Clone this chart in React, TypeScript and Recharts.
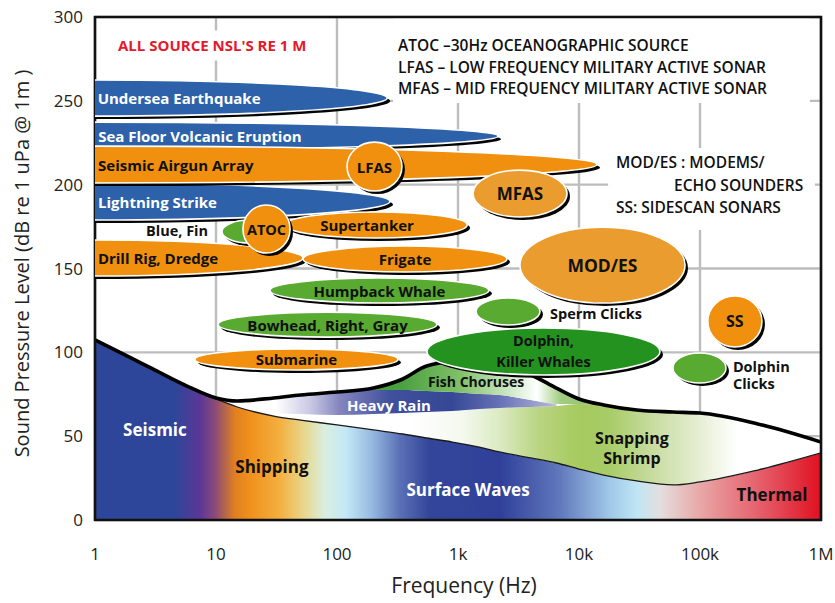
import React from 'react'
import {
  ComposedChart,
  Area,
  Line,
  Scatter,
  XAxis,
  YAxis,
  CartesianGrid,
  ReferenceArea,
} from 'recharts'

const FONT = '"Open Sans", "DejaVu Sans", sans-serif'

const xTicks = [1, 10, 100, 1000, 10000, 100000, 1000000]
const yTicks = [0, 50, 100, 150, 200, 250, 300]

// frequency grid (Hz) for the ambient noise curves
const freqs = [1, 2, 3, 6, 10, 15, 30, 50, 100, 200, 350, 550, 900, 1500, 2200, 4000, 6500, 10000, 16000, 30000, 60000, 100000, 300000, 1000000]

// upper limit of ambient noise (thick black curve), dB
const envelope = [107.4, 96.6, 90.1, 79.3, 72.8, 71.0, 72.8, 74.6, 76.3, 78.7, 84.1, 91.8, 94.2, 93.6, 91.3, 86.5, 78.7, 72.2, 68.6, 65.6, 64.4, 63.8, 57.3, 46.5]

// top of seismic / shipping / surface waves / thermal floor
const floorTop = [107.4, 96.6, 90.1, 79.3, 72.2, 67.4, 62.0, 59.6, 56.7, 53.7, 51.3, 48.9, 46.5, 43.5, 40.6, 37.0, 34.0, 30.4, 26.8, 23.3, 20.9, 22.7, 29.8, 40.0]

const _ = null
const shrimpLow = [_, _, _, _, _, _, 62.0, 59.6, 56.7, 53.7, 51.3, 48.9, 46.5, 43.5, 40.6, 37.0, 34.0, 30.4, 26.8, 23.3, 20.9, 22.7, 29.8, 40.0]
const shrimpHigh = [_, _, _, _, _, _, 63.8, 63.2, 62.6, 63.2, 63.8, 64.4, 65.0, 66.2, 66.8, 67.4, 68.0, 69.2, 68.6, 65.6, 64.4, 63.8, 57.3, 46.5]
const rainLow = [_, _, _, _, _, 67.6, 63.8, 63.2, 62.6, 63.2, 63.8, 64.4, 65.0, 66.2, 66.8, 67.4, 68.0, _, _, _, _, _, _, _]
const rainHigh = [_, _, _, _, _, 69.4, 72.2, 74.0, 76.3, 77.5, 77.5, 76.9, 76.3, 75.1, 74.6, 71.6, 69.2, _, _, _, _, _, _, _]
const fishLow = [_, _, _, _, _, _, _, _, 76.3, 77.5, 77.5, 76.9, 76.3, 75.1, 74.6, 71.6, 69.2, 69.2, 68.6, _, _, _, _, _]
const fishHigh = [_, _, _, _, _, _, _, _, 76.3, 78.7, 84.1, 91.8, 94.2, 93.6, 91.3, 86.5, 78.7, 72.2, 68.6, _, _, _, _, _]

// sound sources: frequency span (Hz) and level span (dB re 1 uPa @ 1m), in drawing order
const sources = [
  { name: 'Sea Floor Volcanic Eruption', f1: 0.00047, f2: 2140, db1: 220.6, db2: 237.3 },
  { name: 'Undersea Earthquake', f1: 0.0038, f2: 260, db1: 240.9, db2: 262.4 },
  { name: 'Lightning Strike', f1: 0.00365, f2: 274, db1: 178.9, db2: 201.0 },
  { name: 'Seismic Airgun Array', f1: 0.000071, f2: 14100, db1: 201.0, db2: 223.0 },
  { name: 'LFAS', f1: 121, f2: 344, db1: 196.2, db2: 225.4 },
  { name: 'MFAS', f1: 1330, f2: 7960, db1: 180.7, db2: 208.7 },
  { name: 'Drill Rig, Dredge', f1: 0.019, f2: 52.4, db1: 145.5, db2: 167.0 },
  { name: 'Frigate', f1: 52.4, f2: 2540, db1: 147.9, db2: 163.4 },
  { name: 'Blue, Fin', f1: 11.2, f2: 32.5, db1: 165.2, db2: 178.9 },
  { name: 'Supertanker', f1: 37.2, f2: 1190, db1: 168.2, db2: 183.7 },
  { name: 'ATOC', f1: 16.7, f2: 40.9, db1: 159.2, db2: 187.9 },
  { name: 'Humpback Whale', f1: 27.9, f2: 1800, db1: 129.4, db2: 144.3 },
  { name: 'Bowhead, Right, Gray', f1: 10.4, f2: 670, db1: 109.1, db2: 124.0 },
  { name: 'Submarine', f1: 6.7, f2: 319, db1: 89.5, db2: 102.0 },
  { name: 'MOD/ES', f1: 3250, f2: 75200, db1: 129.4, db2: 174.7 },
  { name: 'Sperm Clicks', f1: 1410, f2: 4760, db1: 116.3, db2: 132.4 },
  { name: 'SS', f1: 116000, f2: 325000, db1: 103.2, db2: 133.6 },
  { name: 'Dolphin Clicks', f1: 59800, f2: 164000, db1: 81.7, db2: 99.6 },
  { name: 'Dolphin, Killer Whales', f1: 554, f2: 46700, db1: 86.5, db2: 114.5 },
]

// text written inside the source shapes
const innerText: Record<string, string> = {
  'Sea Floor Volcanic Eruption': 'Sea Floor Volcanic Eruption',
  'Undersea Earthquake': 'Undersea Earthquake',
  'Lightning Strike': 'Lightning Strike',
  'Seismic Airgun Array': 'Seismic Airgun Array',
  LFAS: 'LFAS',
  MFAS: 'MFAS',
  'Drill Rig, Dredge': 'Drill Rig, Dredge',
  Frigate: 'Frigate',
  Supertanker: 'Supertanker',
  ATOC: 'ATOC',
  'Humpback Whale': 'Humpback Whale',
  'Bowhead, Right, Gray': 'Bowhead, Right, Gray',
  Submarine: 'Submarine',
  'MOD/ES': 'MOD/ES',
  SS: 'SS',
  'Dolphin, Killer Whales': 'Dolphin,\nKiller Whales',
}

// free-standing annotations
const notes = [
  { id: 'allsrc', text: "ALL SOURCE NSL'S RE 1 M", f: 1.55, db: 283.3 },
  { id: 'atoc', text: 'ATOC \u201330Hz OCEANOGRAPHIC SOURCE', f: 319, db: 283.3 },
  { id: 'lfas', text: 'LFAS \u2013 LOW FREQUENCY MILITARY ACTIVE SONAR', f: 319, db: 270.2 },
  { id: 'mfas', text: 'MFAS \u2013 MID FREQUENCY MILITARY ACTIVE SONAR', f: 319, db: 257.6 },
  { id: 'modes1', text: 'MOD/ES : MODEMS/', f: 20200, db: 213.5 },
  { id: 'modes2', text: 'ECHO SOUNDERS', f: 61000, db: 199.8 },
  { id: 'ss', text: 'SS: SIDESCAN SONARS', f: 20200, db: 186.7 },
  { id: 'bluefin', text: 'Blue, Fin', f: 8.6, db: 172.4 },
  { id: 'sperm', text: 'Sperm Clicks', f: 5760, db: 122.9 },
  { id: 'dclicks', text: 'Dolphin\nClicks', f: 187000, db: 86.5 },
  { id: 'seismic', text: 'Seismic', f: 3.13, db: 53.7 },
  { id: 'shipping', text: 'Shipping', f: 29, db: 32.2 },
  { id: 'waves', text: 'Surface Waves', f: 1210, db: 17.9 },
  { id: 'thermal', text: 'Thermal', f: 394000, db: 15.5 },
  { id: 'shrimp', text: 'Snapping\nShrimp', f: 27400, db: 42.9 },
  { id: 'rain', text: 'Heavy Rain', f: 269, db: 68.6 },
  { id: 'fish', text: 'Fish Choruses', f: 1410, db: 82.9 },
]

// white areas behind the text blocks
const textBoxes = [
  { f1: 1.33, f2: 60, db1: 274, db2: 292 },
  { f1: 290, f2: 810000, db1: 248.7, db2: 300 },
  { f1: 17400, f2: 890000, db1: 173, db2: 221.8 },
]

const BLUE = '#2d62aa'
const ORANGE = '#f0900e'
const LIGHT_ORANGE = '#eb9c2e'
const GREEN = '#58aa30'
const DARK_GREEN = '#23921f'
const INK = '#111'

const look: Record<string, { fill: string; ink: string; size: number; dx?: number; lh?: number }> = {
  'Sea Floor Volcanic Eruption': { fill: BLUE, ink: '#fff', size: 15 },
  'Undersea Earthquake': { fill: BLUE, ink: '#fff', size: 15 },
  'Lightning Strike': { fill: BLUE, ink: '#fff', size: 15 },
  'Seismic Airgun Array': { fill: ORANGE, ink: INK, size: 15 },
  LFAS: { fill: ORANGE, ink: INK, size: 15 },
  MFAS: { fill: LIGHT_ORANGE, ink: INK, size: 17 },
  'Drill Rig, Dredge': { fill: ORANGE, ink: INK, size: 15 },
  Frigate: { fill: ORANGE, ink: INK, size: 15 },
  'Blue, Fin': { fill: GREEN, ink: INK, size: 15 },
  Supertanker: { fill: ORANGE, ink: INK, size: 15, dx: -9 },
  ATOC: { fill: ORANGE, ink: INK, size: 14.5 },
  'Humpback Whale': { fill: GREEN, ink: INK, size: 15 },
  'Bowhead, Right, Gray': { fill: GREEN, ink: INK, size: 15 },
  Submarine: { fill: ORANGE, ink: INK, size: 15 },
  'MOD/ES': { fill: LIGHT_ORANGE, ink: INK, size: 17.5 },
  'Sperm Clicks': { fill: GREEN, ink: INK, size: 15 },
  SS: { fill: ORANGE, ink: INK, size: 16 },
  'Dolphin Clicks': { fill: GREEN, ink: INK, size: 15 },
  'Dolphin, Killer Whales': { fill: DARK_GREEN, ink: INK, size: 14.5, lh: 21 },
}

const noteLook: Record<string, { anchor: string; ink: string; size: number; weight: number; lh?: number }> = {
  allsrc: { anchor: 'start', ink: '#e3192d', size: 15, weight: 700 },
  atoc: { anchor: 'start', ink: INK, size: 15.5, weight: 600 },
  lfas: { anchor: 'start', ink: INK, size: 15.5, weight: 600 },
  mfas: { anchor: 'start', ink: INK, size: 15.5, weight: 600 },
  modes1: { anchor: 'start', ink: INK, size: 15.5, weight: 600 },
  modes2: { anchor: 'start', ink: INK, size: 15.5, weight: 600 },
  ss: { anchor: 'start', ink: INK, size: 15.5, weight: 600 },
  bluefin: { anchor: 'end', ink: INK, size: 14.5, weight: 700 },
  sperm: { anchor: 'start', ink: INK, size: 14.5, weight: 700 },
  dclicks: { anchor: 'start', ink: INK, size: 14.5, weight: 700, lh: 17.5 },
  seismic: { anchor: 'middle', ink: '#fff', size: 17, weight: 700 },
  shipping: { anchor: 'middle', ink: INK, size: 17, weight: 700 },
  waves: { anchor: 'middle', ink: '#fff', size: 17, weight: 700 },
  thermal: { anchor: 'middle', ink: INK, size: 17, weight: 700 },
  shrimp: { anchor: 'middle', ink: INK, size: 16, weight: 700, lh: 20 },
  rain: { anchor: 'middle', ink: '#fff', size: 15, weight: 700 },
  fish: { anchor: 'middle', ink: INK, size: 14, weight: 700 },
}

const noiseRows = freqs.map((f, i) => ({
  f,
  env: envelope[i],
  floor: floorTop[i],
  shrimp: shrimpLow[i] == null ? null : [shrimpLow[i], shrimpHigh[i]],
  rain: rainLow[i] == null ? null : [rainLow[i], rainHigh[i]],
  fish: fishLow[i] == null ? null : [fishLow[i], fishHigh[i]],
}))

const formatFreq = (v: number) => {
  if (v >= 1000000) return `${v / 1000000}M`
  if (v >= 1000) return `${v / 1000}k`
  return `${v}`
}

const ellipseShape = (name: string) => (props: any) => {
  const { x, y, width, height, clipPath } = props
  const rx = width / 2
  const ry = height / 2
  const cx = x + rx
  const cy = y + ry
  const st = look[name]
  const text = innerText[name]
  const band = cx < 100 // sources that start at the 1 Hz edge
  const lines = text ? text.split('\n') : []
  const lh = st.lh ?? st.size * 1.2
  return (
    <g clipPath={clipPath}>
      <ellipse cx={cx + 3} cy={cy + 3} rx={rx} ry={ry} fill="#050505" />
      <ellipse cx={cx} cy={cy} rx={rx} ry={ry} fill={st.fill} stroke="#fff" strokeWidth={1.6} />
      {lines.map((l, i) => (
        <text
          key={i}
          x={band ? cx + 3 : cx + (st.dx || 0)}
          y={cy + (i - (lines.length - 1) / 2) * lh}
          textAnchor={band ? 'start' : 'middle'}
          dominantBaseline="central"
          fontFamily={FONT}
          fontWeight={700}
          fontSize={st.size}
          fill={st.ink}
        >
          {l}
        </text>
      ))}
    </g>
  )
}

const renderNote = (props: any) => {
  const { cx, cy, payload } = props
  const st = noteLook[payload.id]
  const lines = String(payload.text).split('\n')
  const lh = st.lh ?? st.size * 1.2
  return (
    <g>
      {lines.map((l, i) => (
        <text
          key={i}
          x={cx}
          y={cy + (i - (lines.length - 1) / 2) * lh}
          textAnchor={st.anchor as any}
          dominantBaseline="central"
          fontFamily={FONT}
          fontSize={st.size}
          fontWeight={st.weight}
          fill={st.ink}
        >
          {l}
        </text>
      ))}
    </g>
  )
}

const stops = (list: [number, string][]) =>
  list.map(([o, c], i) => <stop key={i} offset={o} stopColor={c} />)

export default function App() {
  return (
    <div style={{ position: 'absolute', left: 0, top: 0, width: 835, height: 603, background: '#fff' }}>
      <ComposedChart
        width={835}
        height={603}
        data={noiseRows}
        margin={{ top: 17, right: 14, bottom: 0, left: 0 }}
      >
        <defs>
          <linearGradient id="gFloor" x1="0" y1="0" x2="1" y2="0">
            {stops([
              [0, '#2d4699'], [0.11, '#2e4699'], [0.145, '#5b3797'], [0.165, '#8a4a7a'],
              [0.193, '#e08020'], [0.213, '#f0901c'], [0.255, '#f3b040'], [0.289, '#e8d890'],
              [0.317, '#d8eee0'], [0.345, '#c4e8f6'], [0.38, '#98bce2'], [0.42, '#5a70b6'],
              [0.46, '#34469a'], [0.558, '#30409a'], [0.64, '#6078bc'], [0.709, '#a0c8e8'],
              [0.747, '#bfe6f4'], [0.778, '#e4dede'], [0.837, '#e8a4a4'], [0.93, '#e45260'],
              [1, '#e01020'],
            ])}
          </linearGradient>
          <linearGradient id="gShrimp" x1="0" y1="0" x2="1" y2="0">
            {stops([
              [0, '#ffffff'], [0.25, '#ffffff'], [0.345, '#f4f8ee'], [0.41, '#dcebc4'],
              [0.486, '#b8d480'], [0.56, '#a6ca5e'], [0.614, '#a8cc68'], [0.693, '#c8dca0'],
              [0.785, '#e8f0d8'], [0.847, '#ffffff'], [1, '#ffffff'],
            ])}
          </linearGradient>
          <linearGradient id="gRain" x1="0" y1="0" x2="1" y2="0">
            {stops([
              [0, '#ffffff'], [0.12, '#ffffff'], [0.23, '#c8c8e4'], [0.32, '#8585bf'],
              [0.48, '#40509c'], [0.67, '#354796'], [0.82, '#6670b4'], [0.98, '#b0b0d8'],
              [1, '#c8c8e6'],
            ])}
          </linearGradient>
          <linearGradient id="gFish" x1="0" y1="0" x2="1" y2="0">
            {stops([
              [0, '#3e9a36'], [0.24, '#4aa040'], [0.46, '#80c068'], [0.65, '#d0e8c8'],
              [0.75, '#ffffff'], [0.84, '#a0cc80'], [1, '#90c268'],
            ])}
          </linearGradient>
        </defs>
        <CartesianGrid stroke="#bdbdbd" strokeWidth={2.4} />
        <XAxis
          dataKey="f"
          type="number"
          scale="log"
          domain={[1, 1000000]}
          allowDataOverflow
          ticks={xTicks}
          tickFormatter={formatFreq}
          axisLine={false}
          tickLine={false}
          tickSize={0}
          tickMargin={28}
          height={83}
          tick={{ fontSize: 17, fill: '#222', fontFamily: FONT }}
          label={{
            value: 'Frequency (Hz)',
            position: 'insideBottom',
            offset: 10,
            dx: 6,
            fontSize: 21,
            fill: '#222',
            fontFamily: FONT,
          }}
        />
        <YAxis
          type="number"
          domain={[0, 300]}
          allowDataOverflow
          ticks={yTicks}
          axisLine={false}
          tickLine={false}
          tickSize={0}
          tickMargin={12}
          width={95}
          tick={{ fontSize: 17, fill: '#222', fontFamily: FONT }}
          label={{
            value: 'Sound Pressure Level (dB re 1 uPa @ 1m )',
            angle: -90,
            position: 'insideLeft',
            offset: 22,
            dy: -5,
            textAnchor: 'middle',
            fontSize: 20,
            fill: '#222',
            fontFamily: FONT,
          }}
        />

        {textBoxes.map((b, i) => (
          <ReferenceArea
            key={`box${i}`}
            x1={b.f1}
            x2={b.f2}
            y1={b.db1}
            y2={b.db2}
            fill="#fff"
            fillOpacity={1}
            stroke="none"
            zIndex={-50}
          />
        ))}

        <Area dataKey="floor" type="monotoneX" fill="url(#gFloor)" fillOpacity={1} stroke="none" connectNulls dot={false} activeDot={false} isAnimationActive={false} zIndex={100} />
        <Area dataKey="shrimp" type="monotoneX" fill="url(#gShrimp)" fillOpacity={1} stroke="none" connectNulls dot={false} activeDot={false} isAnimationActive={false} zIndex={101} />
        <Area dataKey="rain" type="monotoneX" fill="url(#gRain)" fillOpacity={1} stroke="none" connectNulls dot={false} activeDot={false} isAnimationActive={false} zIndex={102} />
        <Area dataKey="fish" type="monotoneX" fill="url(#gFish)" fillOpacity={1} stroke="none" connectNulls dot={false} activeDot={false} isAnimationActive={false} zIndex={103} />
        <Line dataKey="floor" type="monotoneX" stroke="#1a1a1a" strokeWidth={1.3} dot={false} activeDot={false} isAnimationActive={false} zIndex={400} />
        <Line dataKey="env" type="monotoneX" stroke="#000" strokeWidth={3.6} dot={false} activeDot={false} isAnimationActive={false} zIndex={401} />

        <ReferenceArea x1={1} x2={1000000} y1={0} y2={300} fill="none" stroke="#111" strokeWidth={2.6} zIndex={450} />

        {sources.map((s, i) => (
          <ReferenceArea
            key={s.name}
            x1={s.f1}
            x2={s.f2}
            y1={s.db1}
            y2={s.db2}
            ifOverflow="hidden"
            shape={ellipseShape(s.name)}
            zIndex={600 + i}
          />
        ))}

        <Scatter data={notes} dataKey="db" shape={renderNote} isAnimationActive={false} zIndex={2000} />
      </ComposedChart>
    </div>
  )
}
